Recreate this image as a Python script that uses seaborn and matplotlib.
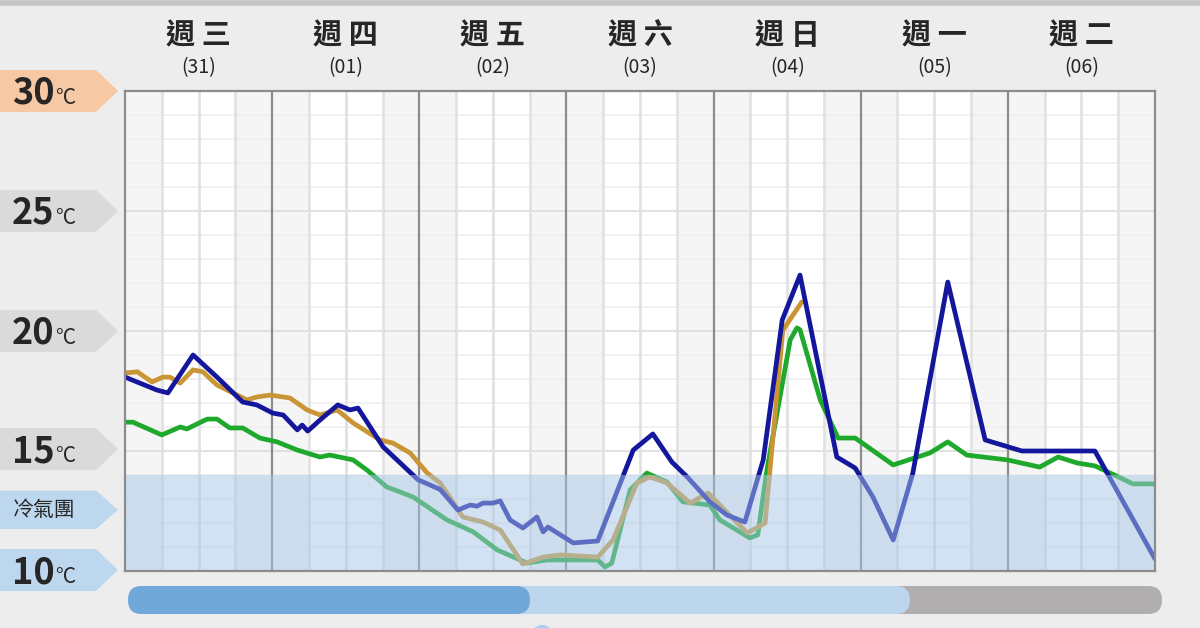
import numpy as np
import pandas as pd
import matplotlib
matplotlib.use("Agg")
import matplotlib.pyplot as plt
import matplotlib.transforms as mtransforms
from matplotlib.patches import Polygon, FancyBboxPatch, Circle
import seaborn as sns

# ---------------- data ----------------
days = ['週 三', '週 四', '週 五', '週 六', '週 日', '週 一', '週 二']
dates = ['(31)', '(01)', '(02)', '(03)', '(04)', '(05)', '(06)']
temp_ticks = [30, 25, 20, 15, 10]

blue_h = [0, 5.2, 7.0, 11.1, 15.0, 19.2, 21.5, 24.1, 25.8, 28.1, 28.9, 29.8, 31.8, 34.7, 36.7, 38.0,
          42.1, 44.9, 47.8, 51.4, 54.3, 56.3, 57.4, 58.4, 60.0, 61.2, 62.8, 64.9, 67.2, 68.2, 69.0,
          73.1, 77.1, 82.9, 86.1, 89.2, 91.7, 95.4, 98.2, 101.1, 104.1, 107.2, 110.1, 116.1, 119.1,
          122.0, 125.3, 128.5, 134.2, 140.3, 146.3, 158.2, 168]
blue_t = [18.08, 17.54, 17.42, 19.0, 18.08, 17.04, 16.92, 16.58, 16.5, 15.88, 16.08, 15.83, 16.29, 16.92, 16.71, 16.79,
          15.17, 14.5, 13.8, 13.4, 12.54, 12.75, 12.7, 12.83, 12.83, 12.92, 12.13, 11.79, 12.25, 11.63, 11.83,
          11.17, 11.25, 15.04, 15.71, 14.54, 13.92, 12.88, 12.33, 12.04, 14.63, 20.46, 22.33, 14.75, 14.29,
          13.08, 11.29, 14.08, 22.04, 15.46, 15.0, 15.0, 10.5]

green_h = [0, 1.3, 6.0, 9.0, 10.1, 13.4, 15.0, 17.1, 19.2, 22.0, 24.8, 28.1, 31.8, 33.4, 37.2, 39.5,
           42.7, 44.9, 47.0, 52.5, 56.8, 60.7, 65.6, 68.8, 77.1, 78.3, 79.4, 82.4, 85.1, 88.4, 91.0,
           95.4, 97.0, 101.9, 103.2, 104.7, 108.5, 109.6, 110.1, 113.4, 116.3, 119.1, 125.3, 131.3,
           134.2, 137.3, 143.9, 149.2, 152.2, 155.3, 158.2, 160.7, 164.4, 168]
green_t = [16.2, 16.2, 15.67, 16.0, 15.92, 16.33, 16.33, 15.96, 15.96, 15.54, 15.38, 15.04, 14.75, 14.83, 14.63, 14.2,
           13.5, 13.29, 13.08, 12.13, 11.63, 10.88, 10.33, 10.46, 10.46, 10.17, 10.33, 13.38, 14.08, 13.71, 12.88,
           12.75, 12.13, 11.38, 11.5, 14.21, 19.63, 20.13, 20.05, 17.13, 15.54, 15.54, 14.42, 14.92,
           15.38, 14.83, 14.63, 14.33, 14.75, 14.5, 14.38, 14.08, 13.63, 13.63]

orange_h = [0, 2.0, 4.4, 6.2, 7.3, 9.0, 11.1, 12.7, 15.0, 17.6, 19.9, 21.5, 23.7, 26.9, 29.7, 31.8,
            34.6, 37.2, 41.6, 43.7, 46.5, 49.3, 51.4, 55.1, 58.4, 61.2, 64.9, 68.2, 71.0, 77.1, 79.6,
            83.5, 85.6, 88.4, 92.2, 95.1, 101.5, 104.4, 107.3, 110.4]
orange_t = [18.25, 18.3, 17.88, 18.08, 18.08, 17.83, 18.38, 18.3, 17.75, 17.42, 17.13, 17.25, 17.33, 17.21, 16.71, 16.5,
            16.71, 16.17, 15.46, 15.33, 14.92, 14.08, 13.67, 12.25, 12.04, 11.71, 10.29, 10.58, 10.67, 10.58, 11.29,
            13.67, 13.92, 13.67, 12.83, 13.25, 11.58, 12.0, 20.04, 21.21]

cold_air_top = 14.0
bar_segments = [('#b0aeae', 1162), ('#bcd6ee', 910), ('#72a7da', 530)]

# ---------------- style ----------------
sns.set_theme(style="white")
plt.rcParams['font.family'] = ['Noto Sans CJK TC', 'DejaVu Sans']

W, H, DPI = 1200, 628, 100
fig = plt.figure(figsize=(W / DPI, H / DPI), dpi=DPI, facecolor='#ededed')

# overlay axes in pixel units for decorations
ov = fig.add_axes([0, 0, 1, 1], zorder=-1)
ov.set_xlim(0, W)
ov.set_ylim(0, H)
ov.axis('off')
ov.patch.set_visible(False)
ov.plot([0, W], [H - 3, H - 3], color='#c4c4c4', lw=4, solid_capstyle='butt')

# main axes
L, R, T, B = 125, 1155, 91, 571
ax = fig.add_axes([L / W, 1 - B / H, (R - L) / W, (B - T) / H])
ax.set_facecolor('white')
ax.set_xlim(0, 168)
ax.set_ylim(10, 30)

# night shading
for d in range(7):
    ax.axvspan(d * 24, d * 24 + 6, color='#f5f5f5', lw=0, zorder=0)
    ax.axvspan(d * 24 + 18, d * 24 + 24, color='#f5f5f5', lw=0, zorder=0)

# grid
for yv in range(11, 30):
    ax.axhline(yv, color='#f0f0f0' if yv % 5 else '#dedede', lw=1.3, zorder=0.5)
for xv in range(6, 168, 6):
    if xv % 24:
        ax.axvline(xv, color='#e2e2e2', lw=2, zorder=0.6)
for xv in range(24, 168, 24):
    ax.axvline(xv, color='#8c8c8c', lw=1.6, zorder=0.7)

# lines
df = pd.concat([
    pd.DataFrame({'hour': green_h, 'temp': green_t, 'model': 'green'}),
    pd.DataFrame({'hour': orange_h, 'temp': orange_t, 'model': 'orange'}),
    pd.DataFrame({'hour': blue_h, 'temp': blue_t, 'model': 'blue'}),
], ignore_index=True)
palette = {'green': '#1ea82c', 'orange': '#c99535', 'blue': '#14169c'}
sns.lineplot(data=df, x='hour', y='temp', hue='model', palette=palette, estimator=None,
             sort=False, lw=3.4, ax=ax, legend=False, zorder=2)

# cold air band over lines
ax.axhspan(10, cold_air_top, color='#a6c7e8', alpha=0.5, lw=0, zorder=3)

ax.set_xticks([])
ax.set_yticks([])
ax.set_xlabel('')
ax.set_ylabel('')
for s in ax.spines.values():
    s.set_color('#8c8c8c')
    s.set_linewidth(1.6)
    s.set_zorder(4)

# day labels
for i, (dname, dt) in enumerate(zip(days, dates)):
    xc = i * 24 + 12
    ax.text(xc, (B - 35) / (B - T), dname, transform=ax.get_xaxis_transform(), ha='center', va='center',
            fontsize=21, fontweight='bold', color='#262626')
    ax.text(xc, (B - 68) / (B - T), dt, transform=ax.get_xaxis_transform(), ha='center', va='center',
            fontsize=14, fontweight='medium', color='#262626')

# left tags (x in pixels, y in data)
pxT = mtransforms.Affine2D().scale(1 / DPI) + fig.dpi_scale_trans
tr = mtransforms.blended_transform_factory(pxT, ax.transData)
tag_colors = {30: '#f6c8a3', 25: '#dadada', 20: '#dadada', 15: '#dadada', 10: '#bdd7ee'}
tag_y = {30: 30.0, 25: 25.0, 20: 20.0, 15: 15.08, 10: 10.04}


def tag(yc, h, color):
    poly = Polygon([(0, yc - h / 2), (96, yc - h / 2), (118, yc), (96, yc + h / 2), (0, yc + h / 2)],
                   closed=True, transform=tr, facecolor=color, edgecolor='none', clip_on=False, zorder=5)
    fig.add_artist(poly)


for t in temp_ticks:
    yc = tag_y[t]
    tag(yc, 1.75, tag_colors[t])
    fig.text(0, 0, str(t), transform=tr, ha='left', va='baseline', fontsize=26, fontweight='bold',
             color='#262626', zorder=6)
    fig.texts[-1].set_position((12, yc - 0.54))
    fig.text(0, 0, '°C', transform=tr, ha='left', va='baseline', fontsize=15, color='#262626', zorder=6)
    fig.texts[-1].set_position((55, yc - 0.54))

tag(12.55, 1.6, '#bdd7ee')
fig.text(0, 0, '冷氣團', transform=tr, ha='left', va='center', fontsize=15, color='#262626', zorder=6)
fig.texts[-1].set_position((13, 12.55))

# bottom progress bar
for col, xend in bar_segments:
    ov.add_patch(FancyBboxPatch((128, H - 614), xend - 128, 28,
                                boxstyle='round,pad=0,rounding_size=14', facecolor=col, edgecolor='none'))
ov.add_patch(Circle((542, H - 636), 11, facecolor='#a9cdee', edgecolor='none'))

fig.savefig('out.png', dpi=DPI, facecolor=fig.get_facecolor())
